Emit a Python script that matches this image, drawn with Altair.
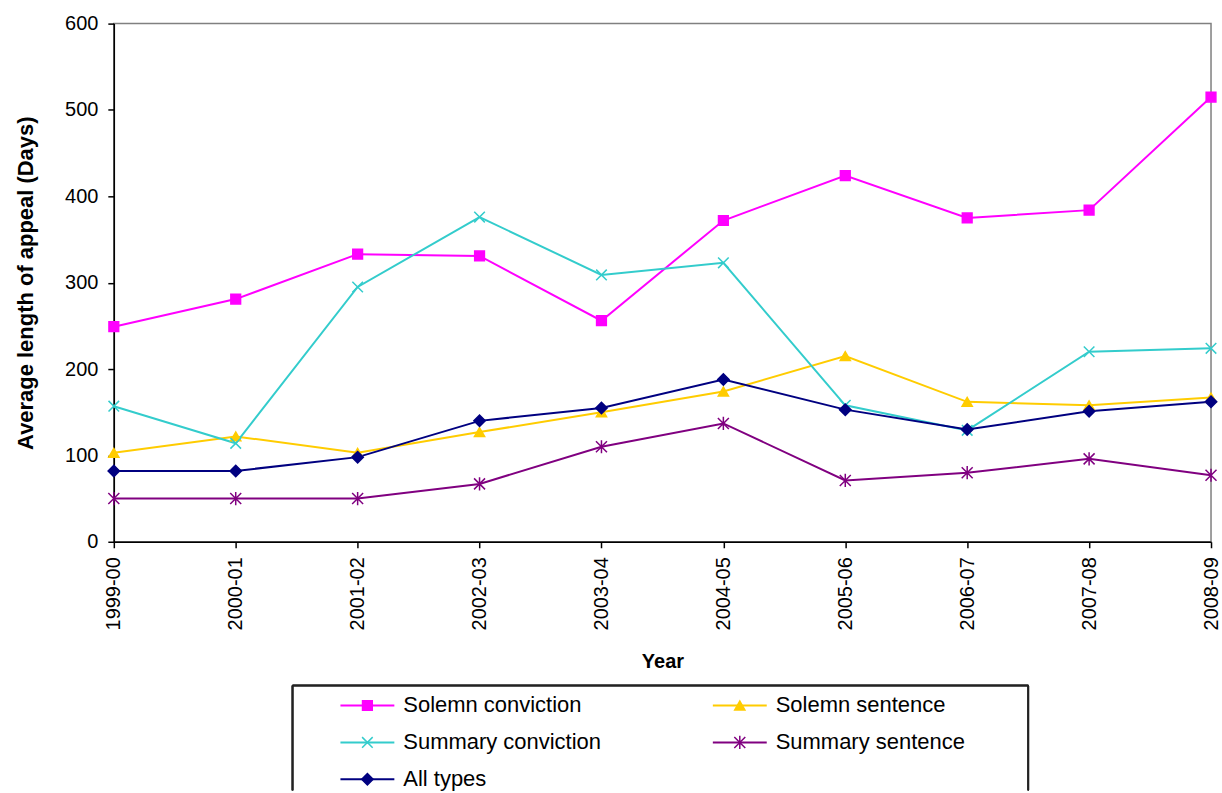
import altair as alt
import pandas as pd

# Appeal durations by financial year (days)
years = ["1999-00", "2000-01", "2001-02", "2002-03", "2003-04",
         "2004-05", "2005-06", "2006-07", "2007-08", "2008-09"]
series_names = ["Solemn conviction", "Solemn sentence", "Summary conviction",
                "Summary sentence", "All types"]
solemn_conviction = [249, 281, 333, 331, 256, 372, 424, 375, 384, 515]
solemn_sentence = [103, 122, 103, 127, 150, 174, 215, 162, 158, 167]
summary_conviction = [157, 114, 295, 376, 309, 323, 158, 129, 220, 224]
summary_sentence = [50, 50, 50, 67, 110, 137, 71, 80, 96, 77]
all_types = [82, 82, 98, 140, 155, 188, 153, 130, 151, 162]

colors = ["#FF00FF", "#FFCC00", "#33CCCC", "#800080", "#000080"]
X_PATH = "M-1,-1L1,1M-1,1L1,-1"
STAR_PATH = "M-1,-1L1,1M-1,1L1,-1M0,-1.2L0,1.2"
shapes = ["square", "triangle-up", X_PATH, STAR_PATH, "diamond"]

FONT = "Liberation Sans"

values = [solemn_conviction, solemn_sentence, summary_conviction,
          summary_sentence, all_types]
rows = []
for name, vals in zip(series_names, values):
    for y, v in zip(years, vals):
        rows.append({"year": y, "series": name, "days": v})
df = pd.DataFrame(rows)

color_scale = alt.Scale(domain=series_names, range=colors)
shape_scale = alt.Scale(domain=series_names, range=shapes)
size_scale = alt.Scale(domain=series_names, range=[95, 130, 70, 90, 140])

x_enc = alt.X(
    "year:O",
    sort=years,
    scale=alt.Scale(type="point", padding=0),
    axis=alt.Axis(title="Year", labelAngle=-90, labelAlign="right",
                  labelBaseline="middle", labelPadding=9, titlePadding=22),
)
y_enc = alt.Y(
    "days:Q",
    scale=alt.Scale(domain=[0, 600], nice=False, zero=True),
    axis=alt.Axis(title="Average length of appeal (Days)", values=[0, 100, 200, 300, 400, 500, 600],
                  labelPadding=10, titlePadding=27, titleFontSize=22),
)

lines = alt.Chart(df).mark_line(strokeWidth=2).encode(
    x=x_enc,
    y=y_enc,
    color=alt.Color("series:N", scale=color_scale, legend=None),
    detail="series:N",
)

points = alt.Chart(df).mark_point(filled=True, opacity=1, strokeWidth=1.5).encode(
    x=alt.X("year:O", sort=years),
    y="days:Q",
    color=alt.Color("series:N", scale=color_scale, legend=None),
    stroke=alt.Stroke("series:N", scale=color_scale, legend=None),
    shape=alt.Shape("series:N", scale=shape_scale, legend=None),
    size=alt.Size("series:N", scale=size_scale, legend=None),
)

main = alt.layer(lines, points).properties(
    width=1099,
    height=519,
    view=alt.ViewBackground(stroke="#808080", strokeWidth=1.5),
)

# Boxed legend below the plot, two entries per row
legend_df = pd.DataFrame({
    "series": series_names,
    "col": [i % 2 for i in range(len(series_names))],
    "row": [i // 2 for i in range(len(series_names))],
})
LEG_H = 105
lx = alt.X("col:Q", scale=alt.Scale(domain=[0, 1], range=[254, 627]), axis=None)
ly = alt.Y("row:Q", scale=alt.Scale(domain=[0, 2], range=[20, 94]), axis=None)

leg_lines = alt.Chart(legend_df).mark_rule(strokeWidth=2, xOffset=-27, x2Offset=27).encode(
    x=lx, x2="col:Q", y=ly,
    color=alt.Color("series:N", scale=color_scale, legend=None),
)
leg_points = alt.Chart(legend_df).mark_point(filled=True, opacity=1, strokeWidth=1.5).encode(
    x=lx, y=ly,
    color=alt.Color("series:N", scale=color_scale, legend=None),
    stroke=alt.Stroke("series:N", scale=color_scale, legend=None),
    shape=alt.Shape("series:N", scale=shape_scale, legend=None),
    size=alt.Size("series:N", scale=size_scale, legend=None),
)
leg_text = alt.Chart(legend_df).mark_text(
    align="left", baseline="middle", dx=36, fontSize=22, font=FONT, color="black"
).encode(x=lx, y=ly, text="series:N")

box_top = alt.Chart(legend_df).mark_rule(color="#222222", strokeWidth=1.5).encode(
    x=alt.value(179), x2=alt.value(916), y=alt.value(0)
)
box_left = alt.Chart(legend_df).mark_rule(color="#222222", strokeWidth=1.5).encode(
    x=alt.value(179), y=alt.value(0), y2=alt.value(LEG_H)
)
box_right = alt.Chart(legend_df).mark_rule(color="#222222", strokeWidth=1.5).encode(
    x=alt.value(916), y=alt.value(0), y2=alt.value(LEG_H)
)

legend = alt.layer(box_top, box_left, box_right, leg_lines, leg_points, leg_text).properties(
    width=1099,
    height=LEG_H,
    view=alt.ViewBackground(stroke=None),
)

chart = alt.vconcat(main, legend, spacing=11).resolve_scale(
    x="independent", y="independent"
).properties(
    padding={"left": 13, "top": 12, "right": 0, "bottom": 0},
    background="white",
).configure_axis(
    labelFont=FONT,
    titleFont=FONT,
    labelFontSize=20,
    titleFontSize=20,
    titleFontWeight="bold",
    labelColor="black",
    titleColor="black",
    domainColor="black",
    domainWidth=1.5,
    tickColor="black",
    tickWidth=1.5,
    tickSize=6,
    grid=False,
)

chart.save("out.html", embed_options={"renderer": "svg", "actions": False})
